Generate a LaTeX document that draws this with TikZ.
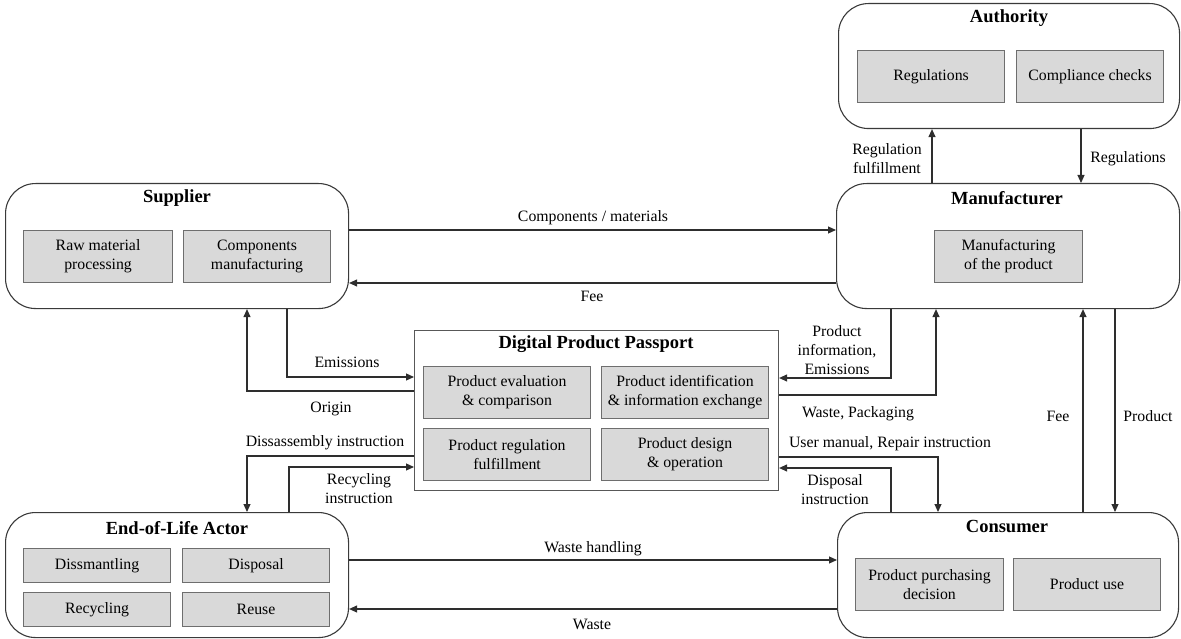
\documentclass[tikz,border=0pt]{standalone}
\usepackage{fontspec}
\setmainfont{Liberation Serif}
\usetikzlibrary{arrows.meta}
\definecolor{subfill}{HTML}{D9D9D9}
\definecolor{subline}{HTML}{6E6E6E}
\definecolor{actline}{HTML}{3A3A3A}
\definecolor{conline}{HTML}{2E2E2E}
\tikzset{
  actor/.style={draw=actline, line width=1.1pt, rounded corners=30pt, fill=white, anchor=north west, inner sep=0pt},
  sub/.style={draw=subline, line width=1.1pt, fill=subfill, anchor=north west, inner sep=0pt, align=center,
    font=\fontsize{15.8}{19}\selectfont},
  dppbox/.style={draw=subline!80!black, line width=1.1pt, fill=white, anchor=north west, inner sep=0pt},
  ttl/.style={font=\fontsize{18.5}{22}\selectfont\bfseries, inner sep=0pt, yshift=-1.5pt},
  lbl/.style={font=\fontsize{15.8}{19}\selectfont, align=center, inner sep=0pt, yshift=-1.5pt},
  arr/.style={draw=conline, line width=1.1pt, -{Triangle[length=8pt,width=7pt]}},
}
\begin{document}
\begin{tikzpicture}[x=1pt,y=-1pt]
\useasboundingbox (0,0) rectangle (1181,639);
% helper coordinates
\foreach \v in {230,283,377,391,456,467,378,395,457,468,560,609}{\coordinate (y\v) at (0,\v);}
\foreach \v in {932,1081,287,247,289,891,936,938,1083,1115}{\coordinate (x\v) at (\v,0);}

% Authority
\node[actor, minimum width=341pt, minimum height=125pt] (auth) at (838,3) {};
\node[ttl] (authT) at (1009,17) {Authority};
\node[sub, minimum width=147pt, minimum height=52pt] (regs) at (857,50) {Regulations};
\node[sub, minimum width=147pt, minimum height=52pt] (comp) at (1016,50) {Compliance checks};

% Manufacturer
\node[actor, minimum width=343pt, minimum height=125pt] (man) at (836,183) {};
\node[ttl] (manT) at (1007,197) {Manufacturer};
\node[sub, minimum width=148pt, minimum height=52pt] (mfg) at (934,230) {Manufacturing\\of the product};

% Supplier
\node[actor, minimum width=343pt, minimum height=125pt] (sup) at (5,183) {};
\node[ttl] (supT) at (177,197) {Supplier};
\node[sub, minimum width=149pt, minimum height=52pt] (raw) at (23,230) {Raw material\\processing};
\node[sub, minimum width=147pt, minimum height=52pt] (cmf) at (183,230) {Components\\manufacturing};

% DPP
\node[dppbox, minimum width=364pt, minimum height=160pt] (dpp) at (414,330) {};
\node[ttl] (dppT) at (596,343) {Digital Product Passport};
\node[sub, minimum width=167pt, minimum height=52pt] (eval) at (423,366) {Product evaluation\\\& comparison};
\node[sub, minimum width=167pt, minimum height=52pt] (ident) at (601,366) {Product identification\\\& information exchange};
\node[sub, minimum width=167pt, minimum height=52pt] (regf) at (423,428) {Product regulation\\fulfillment};
\node[sub, minimum width=167pt, minimum height=52pt] (design) at (601,428) {Product design\\\& operation};

% End-of-Life Actor
\node[actor, minimum width=343pt, minimum height=125pt] (eol) at (5,512) {};
\node[ttl] (eolT) at (177,527) {End-of-Life Actor};
\node[sub, minimum width=147pt, minimum height=34pt] (dism) at (23,548) {Dissmantling};
\node[sub, minimum width=147pt, minimum height=34pt] (disp) at (182,548) {Disposal};
\node[sub, minimum width=147pt, minimum height=34pt] (recy) at (23,592) {Recycling};
\node[sub, minimum width=147pt, minimum height=34pt] (reuse) at (182,592) {Reuse};

% Consumer
\node[actor, minimum width=341pt, minimum height=125pt] (con) at (837,512) {};
\node[ttl] (conT) at (1007,525) {Consumer};
\node[sub, minimum width=148pt, minimum height=52pt] (purch) at (855,558) {Product purchasing\\decision};
\node[sub, minimum width=147pt, minimum height=52pt] (use) at (1013,558) {Product use};

% Connectors
\draw[arr] (man.north -| x932) -- (auth.south -| x932);
\draw[arr] (auth.south -| x1081) -- (man.north -| x1081);
\draw[arr] (sup.east |- y230) -- (man.west |- y230);
\draw[arr] (man.west |- y283) -- (sup.east |- y283);
\draw[arr] (sup.south -| x287) |- (dpp.west |- y377);
\draw[arr] (dpp.west |- y391) -| (sup.south -| x247);
\draw[arr] (dpp.west |- y456) -| (eol.north -| x247);
\draw[arr] (eol.north -| x289) |- (dpp.west |- y467);
\draw[arr] (man.south -| x891) |- (dpp.east |- y378);
\draw[arr] (dpp.east |- y395) -| (man.south -| x936);
\draw[arr] (dpp.east |- y457) -| (con.north -| x938);
\draw[arr] (con.north -| x891) |- (dpp.east |- y468);
\draw[arr] (con.north -| x1083) -- (man.south -| x1083);
\draw[arr] (man.south -| x1115) -- (con.north -| x1115);
\draw[arr] (eol.east |- y560) -- (con.west |- y560);
\draw[arr] (con.west |- y609) -- (eol.east |- y609);

% Labels
\node[lbl] (lRegF) at (887,157.5) {Regulation\\fulfillment};
\node[lbl] (lRegs) at (1128,157) {Regulations};
\node[lbl] (lComp) at (593,216) {Components / materials};
\node[lbl] (lFee1) at (592,295) {Fee};
\node[lbl] (lEmis) at (347,361) {Emissions};
\node[lbl] (lOrig) at (331,407) {Origin};
\node[lbl] (lDis) at (325,441) {Dissassembly instruction};
\node[lbl] (lRec) at (359,487) {Recycling\\instruction};
\node[lbl] (lPI) at (837,349) {Product\\information,\\Emissions};
\node[lbl] (lWP) at (858,412) {Waste, Packaging};
\node[lbl] (lUM) at (890,442) {User manual, Repair instruction};
\node[lbl] (lDI) at (835,488) {Disposal\\instruction};
\node[lbl] (lFee2) at (1058,415) {Fee};
\node[lbl] (lProd) at (1148,415) {Product};
\node[lbl] (lWH) at (593,547) {Waste handling};
\node[lbl] (lW) at (592,623) {Waste};
\end{tikzpicture}
\end{document}
